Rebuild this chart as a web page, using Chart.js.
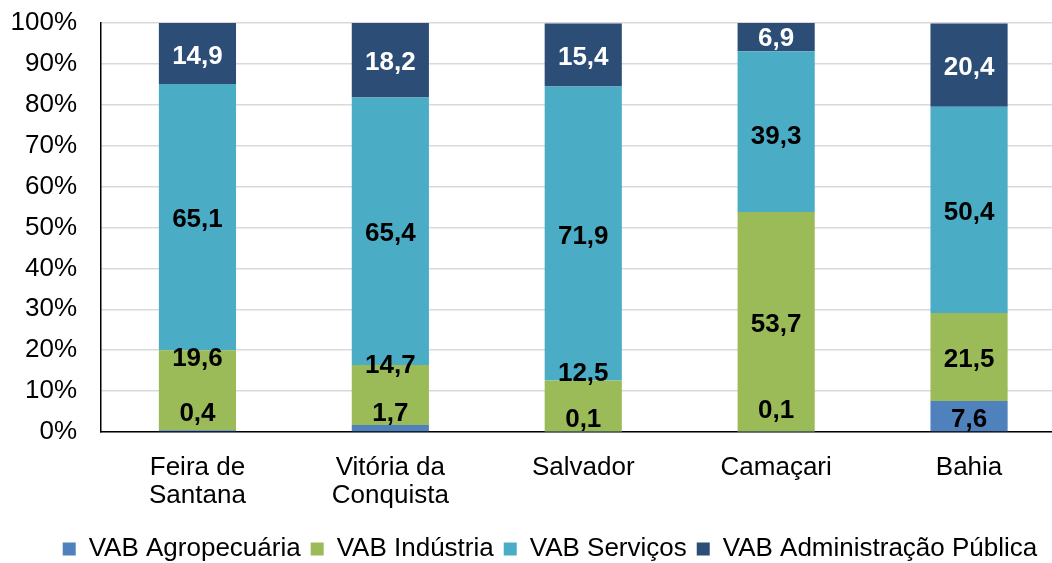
<!DOCTYPE html>
<html>
<head>
<meta charset="utf-8">
<script src="https://cdn.jsdelivr.net/npm/chart.js@4"></script>
<style>
    html, body { margin: 0; padding: 0; background: #ffffff; overflow: hidden; }
    #grafico { display: block; }
</style>
</head>
<body>
<canvas id="grafico" width="1052" height="563"></canvas>
<script>
const municipios = [["Feira de", "Santana"], ["Vitória da", "Conquista"], ["Salvador"], ["Camaçari"], ["Bahia"]];

const agropecuaria = [0.4, 1.7, 0.1, 0.1, 7.6];
const industria = [19.6, 14.7, 12.5, 53.7, 21.5];
const servicos = [65.1, 65.4, 71.9, 39.3, 50.4];
const administracao = [14.9, 18.2, 15.4, 6.9, 20.4];

const nomesSeries = ["VAB Agropecuária", "VAB Indústria", "VAB Serviços", "VAB Administração Pública"];

// deslocamento vertical (px) dos rótulos, como foram arrastados no original
const ajusteRotulos = [
    [-17, -14, -12, -21, 4],
    [-31, -29, -32, 3, 3],
    [3, 3, 3, 5, 3],
    [3, 3, 3, 2, 3]
];

const fonte = "'Liberation Sans', Arial, sans-serif";

Chart.defaults.font.family = fonte;
Chart.defaults.font.size = 26;
Chart.defaults.color = "#000000";

function pontos(valores) {
    return valores.map((v, i) => ({ x: i, y: v }));
}

const rotulosBarras = {
    id: "rotulosBarras",
    afterDatasetsDraw(chart) {
        const ctx = chart.ctx;
        ctx.save();
        ctx.font = "bold 26px " + fonte;
        ctx.textAlign = "center";
        ctx.textBaseline = "middle";

        chart.data.datasets.forEach((dataset, i) => {
            const meta = chart.getDatasetMeta(i);
            ctx.fillStyle = dataset.corRotulo;

            meta.data.forEach((barra, j) => {
                const props = barra.getProps(["x", "y", "base"], true);
                const texto = dataset.data[j].y.toFixed(1).replace(".", ",");
                const y = (props.y + props.base) / 2 + ajusteRotulos[i][j];
                ctx.fillText(texto, props.x, y);
            });
        });

        ctx.restore();
    }
};

// a legenda do original fica centrada um pouco à direita
const moverLegenda = {
    id: "moverLegenda",
    afterLayout(chart) {
        chart.legend.left += 38;
    }
};

new Chart(document.getElementById("grafico"), {
    type: "bar",
    data: {
        datasets: [
            { label: nomesSeries[0], data: pontos(agropecuaria), backgroundColor: "#4F81BD", corRotulo: "#000000" },
            { label: nomesSeries[1], data: pontos(industria), backgroundColor: "#9BBB59", corRotulo: "#000000" },
            { label: nomesSeries[2], data: pontos(servicos), backgroundColor: "#4BACC6", corRotulo: "#000000" },
            { label: nomesSeries[3], data: pontos(administracao), backgroundColor: "#2C4D75", corRotulo: "#ffffff" }
        ]
    },
    options: {
        responsive: false,
        animation: false,
        layout: {
            padding: { top: 23, left: 10, right: 0, bottom: -9 }
        },
        datasets: {
            bar: {
                borderWidth: 0,
                barPercentage: 0.4,
                categoryPercentage: 1
            }
        },
        scales: {
            x: {
                type: "linear",
                stacked: true,
                offset: false,
                min: -0.5,
                max: 4.43,
                grid: { display: false },
                border: { display: true, color: "#000000", width: 1.5 },
                afterBuildTicks(axis) {
                    axis.ticks = municipios.map((m, i) => ({ value: i }));
                },
                afterFit(axis) {
                    axis.height = 94;
                },
                ticks: {
                    autoSkip: false,
                    maxRotation: 0,
                    padding: 14,
                    font: { size: 26, lineHeight: 1.06 },
                    callback: (valor, indice) => municipios[indice]
                }
            },
            y: {
                stacked: true,
                min: 0,
                max: 100,
                grid: {
                    color: "#D9D9D9",
                    lineWidth: 1.5,
                    drawTicks: true,
                    tickLength: 24,
                    tickColor: "rgba(0,0,0,0)"
                },
                border: { display: true, color: "#000000", width: 1.5 },
                afterFit(axis) {
                    axis.width = 91;
                },
                ticks: {
                    stepSize: 10,
                    padding: 0,
                    font: { size: 26 },
                    callback: valor => valor + "%"
                }
            }
        },
        plugins: {
            legend: {
                position: "bottom",
                labels: {
                    boxWidth: 13,
                    boxHeight: 13,
                    padding: 10,
                    font: { size: 26 },
                    color: "#000000"
                }
            },
            tooltip: { enabled: false }
        }
    },
    plugins: [rotulosBarras, moverLegenda]
});
</script>
</body>
</html>
